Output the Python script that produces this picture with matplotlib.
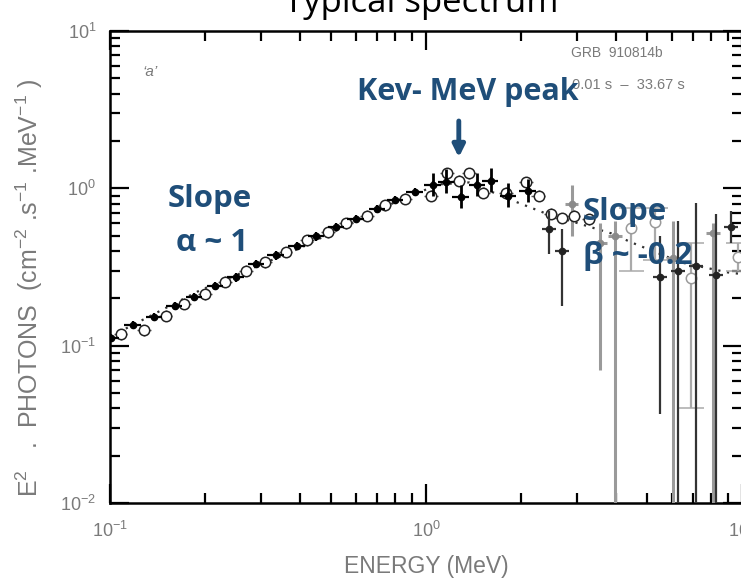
import numpy as np
import matplotlib
matplotlib.use("Agg")
import matplotlib.pyplot as plt

plt.rcParams['mathtext.default'] = 'regular'
plt.rcParams['font.family'] = ['Liberation Sans', 'DejaVu Sans']

# --- donnees (E en MeV, E^2 N(E)) ---
# points pleins (noirs)
full_E = [0.101, 0.118, 0.138, 0.160, 0.185, 0.215, 0.250, 0.290, 0.335, 0.390,
          0.450, 0.520, 0.600, 0.700, 0.800, 0.920, 1.05, 1.16, 1.29, 1.45,
          1.60, 1.82, 2.10]
full_F = [0.112, 0.135, 0.152, 0.178, 0.205, 0.240, 0.272, 0.330, 0.375, 0.430,
          0.495, 0.570, 0.640, 0.740, 0.840, 0.950, 1.05, 1.10, 0.88, 1.05,
          1.12, 0.90, 0.96]

# points ouverts
open_E = [0.108, 0.128, 0.150, 0.172, 0.200, 0.232, 0.270, 0.310, 0.360, 0.420,
          0.490, 0.560, 0.650, 0.740, 0.860, 1.04, 1.165, 1.27, 1.37, 1.52,
          1.79, 2.07, 2.27, 2.48, 2.69, 2.93, 3.27]
open_F = [0.118, 0.125, 0.155, 0.185, 0.212, 0.255, 0.300, 0.340, 0.395, 0.470,
          0.525, 0.600, 0.670, 0.780, 0.860, 0.90, 1.25, 1.12, 1.25, 0.94,
          0.94, 1.09, 0.90, 0.69, 0.65, 0.67, 0.64]

# haute energie, points sombres (bornes basse / haute)
dark_E = [2.45, 2.70, 5.51, 6.28, 7.15, 8.30, 9.23]
dark_F = [0.55, 0.40, 0.275, 0.30, 0.32, 0.28, 0.565]
dark_lo = [0.38, 0.18, 0.037, 0.001, 0.001, 0.001, 0.45]
dark_hi = [0.72, 0.55, 0.50, 0.62, 0.81, 0.69, 0.72]

# haute energie, points gris pleins
grey_E = [2.89, 3.56, 3.97, 6.06, 8.10]
grey_F = [0.80, 0.45, 0.50, 0.36, 0.52]
grey_lo = [0.50, 0.070, 0.001, 0.001, 0.001]
grey_hi = [1.05, 0.60, 0.62, 0.62, 0.60]

# haute energie, points gris ouverts
greyo_E = [4.47, 5.32, 6.90, 9.71]
greyo_F = [0.556, 0.607, 0.271, 0.364]
greyo_lo = [0.30, 0.35, 0.040, 0.30]
greyo_hi = [0.75, 0.75, 0.45, 0.45]

# modele (pointilles)
model_E = [0.10, 0.192, 0.397, 0.822, 1.10, 1.37, 1.87, 2.39, 3.86, 4.47, 6.42, 9.03, 10.0]
model_F = [0.114, 0.224, 0.415, 0.84, 1.06, 1.09, 0.84, 0.693, 0.517, 0.453, 0.338, 0.292, 0.285]

blue = '#1f4e79'
grey_txt = '#7a7a7a'

fig = plt.figure(figsize=(7.41, 5.83), dpi=100)
ax = fig.add_axes([110 / 741, 80 / 583, 632 / 741, 472 / 583])
ax.set_xscale('log')
ax.set_yscale('log')
ax.set_xlim(0.1, 10)
ax.set_ylim(0.01, 10)

ax.plot(model_E, model_F, ls=(0, (1, 3)), color='#333333', lw=1.6, zorder=2)


def yerr(F, lo, hi):
    F = np.array(F)
    return [F - np.array(lo), np.array(hi) - F]


fE = np.array(full_E)
fF = np.array(full_F)
ax.errorbar(fE, fF, xerr=[fE * 0.06, fE * 0.06], yerr=[fF * 0.06, fF * 0.06],
            fmt='o', ms=4.5, color='black', ecolor='black', elinewidth=1.6, capsize=0, zorder=4)
# erreurs plus grandes autour du pic
ax.errorbar(fE[16:], fF[16:], yerr=[fF[16:] * 0.15, fF[16:] * 0.2],
            fmt='none', ecolor='black', elinewidth=2, zorder=4)

oE = np.array(open_E)
oF = np.array(open_F)
ax.errorbar(oE, oF, xerr=[oE * 0.05, oE * 0.05], yerr=[oF * 0.08, oF * 0.08],
            fmt='o', ms=7.5, mfc='white', mec='#222222', mew=1.1, ecolor='#555555',
            elinewidth=1, capsize=0, zorder=3)

ax.errorbar(grey_E, grey_F, yerr=yerr(grey_F, grey_lo, grey_hi), xerr=[np.array(grey_E) * 0.05] * 2,
            fmt='o', ms=4.5, color='#8a8a8a', ecolor='#9a9a9a', elinewidth=2.2, capsize=0, zorder=3)
ax.errorbar(greyo_E, greyo_F, yerr=yerr(greyo_F, greyo_lo, greyo_hi),
            fmt='o', ms=7.5, mfc='white', mec='#9a9a9a', mew=1.1, ecolor='#aaaaaa',
            elinewidth=1.6, capsize=9, capthick=1.6, zorder=3)
ax.errorbar(dark_E, dark_F, yerr=yerr(dark_F, dark_lo, dark_hi), xerr=[np.array(dark_E) * 0.05] * 2,
            fmt='o', ms=4.5, color='#222222', ecolor='#333333', elinewidth=1.6, capsize=0, zorder=4)

# axes facon IDL
for sp in ax.spines.values():
    sp.set_linewidth(1.8)
ax.tick_params(which='both', direction='in', top=True, right=True, labelcolor=grey_txt,
               labelsize=13, width=1.6)
ax.tick_params(which='major', length=14)
ax.tick_params(which='minor', length=7)
ax.tick_params(axis='x', pad=13)
ax.tick_params(axis='y', pad=10)

ax.set_xlabel('ENERGY (MeV)', color=grey_txt, fontsize=16.5, labelpad=10)
ax.set_ylabel(r'E$^2$   .  PHOTONS  (cm$^{-2}$ .s$^{-1}$ .MeV$^{-1}$ )', color=grey_txt, fontsize=18)
ax.yaxis.set_label_coords(-0.103, 0.455)

ax.text(0.063, 0.913, "\u2018a\u2019", transform=ax.transAxes, color=grey_txt, fontsize=11,
        ha='center', va='center', style='italic')
ax.text(0.802, 0.953, 'GRB  910814b', transform=ax.transAxes, color=grey_txt, fontsize=10,
        ha='center', va='center')
ax.text(0.82, 0.886, '0.01 s  \u2013  33.67 s', transform=ax.transAxes, color=grey_txt, fontsize=10.5,
        ha='center', va='center')

# annotations en bleu
ax.text(0.566, 0.871, 'Kev- MeV peak', transform=ax.transAxes, color=blue, fontsize=22,
        fontweight='bold', family='Open Sans', ha='center', va='center', zorder=10)
ax.text(0.158, 0.644, 'Slope', transform=ax.transAxes, color=blue, fontsize=22.5,
        fontweight='bold', family='Open Sans', ha='center', va='center', zorder=10)
ax.text(0.162, 0.551, '\u03b1 ~ 1', transform=ax.transAxes, color=blue, fontsize=22.5,
        fontweight='bold', family='Open Sans', ha='center', va='center', zorder=10)
ax.text(0.748, 0.616, 'Slope', transform=ax.transAxes, color=blue, fontsize=22.5,
        fontweight='bold', family='Open Sans', ha='left', va='center', zorder=10)
ax.text(0.748, 0.523, '\u03b2 ~ -0.2', transform=ax.transAxes, color=blue, fontsize=22.5,
        fontweight='bold', family='Open Sans', ha='left', va='center', zorder=10)
ax.annotate('', xy=(1.27, 1.51), xytext=(1.27, 2.79),
            arrowprops=dict(arrowstyle='-|>,head_width=0.35,head_length=0.7', color=blue, lw=3.5),
            zorder=10)

fig.text(0.568, 0.995, 'Typical spectrum', fontsize=25, family='Open Sans', ha='center', va='center')

plt.savefig('out.png', dpi=100)
